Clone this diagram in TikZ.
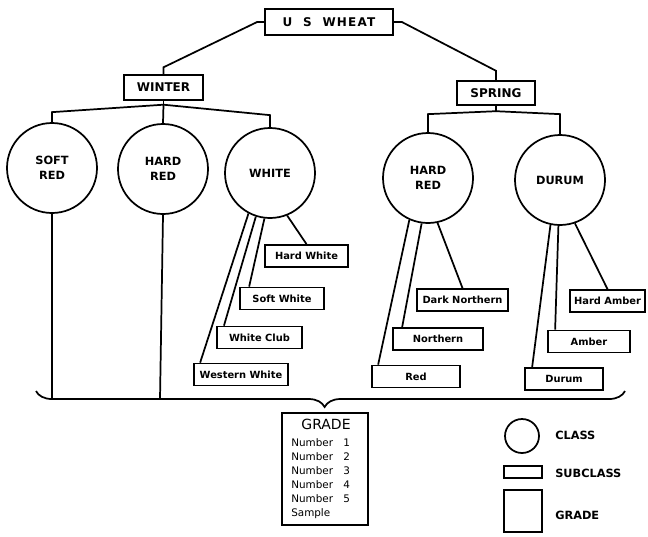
\documentclass[tikz,border=0pt]{standalone}
\usepackage{fontspec}
\setmainfont{DejaVu Sans}
\usetikzlibrary{decorations.pathreplacing,calc}
\tikzstyle{conn}=[line width=1.3pt]
\tikzstyle{groupbox}=[rectangle, draw=black, line width=1.3pt, inner sep=0pt, minimum height=18.5pt, font=\bfseries\fontsize{9}{11}\selectfont]
\tikzstyle{classnode}=[circle, draw=black, line width=1.3pt, minimum size=67.5pt, inner sep=0pt, align=center, font=\bfseries\fontsize{8.5}{11.5}\selectfont]
\tikzstyle{subbox}=[rectangle, draw=black, line width=1.3pt, minimum height=16.5pt, inner sep=0pt, font=\bfseries\fontsize{7.4}{8}\selectfont]
\tikzstyle{legtext}=[anchor=west, inner sep=0pt, font=\bfseries\fontsize{8.5}{10}\selectfont]
\newcommand{\drawlegend}[0]
{
  \node[classnode, minimum size=25.5pt](legclass) at (522,436){};
  \node[subbox, minimum width=28.5pt, minimum height=9pt](legsub) at (523,472){};
  \node[subbox, minimum width=28.5pt, minimum height=31.5pt](leggrade) at (523,511){};
  \node[legtext](legclasstext) at (555,435){CLASS};
  \node[legtext](legsubtext) at (555,473){SUBCLASS};
  \node[legtext](leggradetext) at (555,515){GRADE};
}

\begin{document}
\begin{tikzpicture}[x=0.75pt, y=-0.75pt]
	\useasboundingbox (0,0) rectangle (648,536);

	\node[groupbox, minimum width=96pt, minimum height=20pt](uswheat) at (329,22){\addfontfeature{LetterSpace=10}U\ \ S\ \ WHEAT};
	\node[groupbox, minimum width=59pt](winter) at (163.5,87.5){WINTER};
	\node[groupbox, minimum width=58.5pt](spring) at (496,93){SPRING};

	\node[classnode](softred) at (52,168){SOFT\\RED};
	\node[classnode](hardred) at (163,169){HARD\\RED};
	\node[classnode](white) at (270,173){WHITE};
	\node[classnode](hardredsp) at (428,178){HARD\\RED};
	\node[classnode](durum) at (560,180){DURUM};

	\node[subbox, minimum width=62pt](hardwhite) at (306.5,256){Hard White};
	\node[subbox, minimum width=63pt](softwhite) at (282,298.5){Soft White};
	\node[subbox, minimum width=64pt](whiteclub) at (259.5,337.5){White Club};
	\node[subbox, minimum width=70.5pt](westernwhite) at (241,374.5){Western White};
	\node[subbox, minimum width=68pt](darknorthern) at (462.5,300){Dark Northern};
	\node[subbox, minimum width=67.5pt](northern) at (438,339){Northern};
	\node[subbox, minimum width=66pt](redsub) at (416,376.5){Red};
	\node[subbox, minimum width=56pt](hardamber) at (607.5,301){Hard Amber};
	\node[subbox, minimum width=61.5pt](amber) at (589,341.5){Amber};
	\node[subbox, minimum width=58.5pt](durumsub) at (564,379){Durum};

	% top of the tree
	\draw[conn] (uswheat.west) -- ++(-7,0) -- ($(winter.north)+(0,-7)$) -- (winter.north);
	\draw[conn] (uswheat.east) -- ++(8,0) -- ($(spring.north)+(0,-9)$) -- (spring.north);

	\coordinate (wapex) at ($(winter.south)+(0,4)$);
	\draw[conn] (winter.south) -- (wapex);
	\draw[conn] (wapex) -- ($(softred.north)+(0,-10)$) -- (softred.north);
	\draw[conn] (wapex) -- (hardred.north);
	\draw[conn] (wapex) -- ($(white.north)+(0,-12)$) -- (white.north);

	\coordinate (sapex) at ($(spring.south)+(0,5)$);
	\draw[conn] (spring.south) -- (sapex);
	\draw[conn] (sapex) -- ($(hardredsp.north)+(0,-18)$) -- (hardredsp.north);
	\draw[conn] (sapex) -- ($(durum.north)+(0,-20)$) -- (durum.north);

	% subclasses
	\draw[conn] (white.-118) -- ($(westernwhite.north west)+(7,0)$);
	\draw[conn] (white.-108) -- ($(whiteclub.north west)+(8,0)$);
	\draw[conn] (white.-97) -- ($(softwhite.north west)+(10,0)$);
	\draw[conn] (white.-68) -- (hardwhite.north);
	\draw[conn] (hardredsp.-114) -- ($(redsub.north west)+(7,0)$);
	\draw[conn] (hardredsp.-98) -- ($(northern.north west)+(10,0)$);
	\draw[conn] (hardredsp.-78) -- (darknorthern.north);
	\draw[conn] (durum.-102) -- ($(durumsub.north west)+(8,0)$);
	\draw[conn] (durum.-92) -- ($(amber.north west)+(8,0)$);
	\draw[conn] (durum.-71) -- (hardamber.north);

	\coordinate (softend) at (52,399);
	\coordinate (hardend) at (160,399);
	\draw[conn] (softred.south) -- (softend);
	\draw[conn] (hardred.south) -- (hardend);

	\draw[conn, decorate, decoration={brace, mirror, amplitude=12pt, aspect=0.49}] (36,391) -- (625,391);

	% grade box
	\node[subbox, minimum width=64pt, minimum height=84pt](grade) at (325,469){};
	\node[font=\fontsize{10.5}{12}\selectfont, inner sep=0pt](gradetitle) at (326,424){GRADE};
	\node[anchor=north west, inner sep=0pt, align=left, font=\fontsize{7.8}{10.5}\selectfont](gradelist) at (291,438)
		{Number\quad 1\\Number\quad 2\\Number\quad 3\\Number\quad 4\\Number\quad 5\\Sample};

	\drawlegend{}

\end{tikzpicture}
\end{document}
